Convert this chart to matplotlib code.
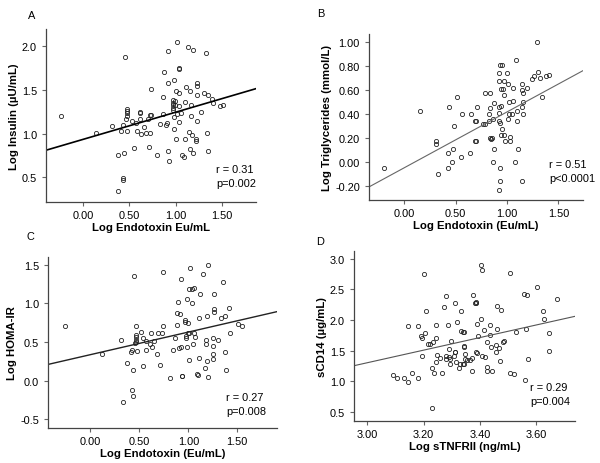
import numpy as np
import matplotlib
matplotlib.use("Agg")
import matplotlib.pyplot as plt

plt.rcParams['font.family'] = ['Liberation Sans', 'DejaVu Sans']

# ---- 面板 A: Log Endotoxin vs Log Insulin ----
a_x = [-0.24, 0.14, 0.31, 0.43, 0.41, 0.45, 0.38, 0.43, 0.43, 0.44, 0.38,
       0.48, 0.48, 0.48, 0.48, 0.47, 0.48, 0.53, 0.55, 0.57, 0.58, 0.62, 0.62,
       0.62, 0.63, 0.66, 0.68, 0.70, 0.72, 0.73, 0.72, 0.71, 0.74, 0.80, 0.83,
       0.86, 0.87, 0.88, 0.90, 0.91, 0.92, 0.92, 0.92, 0.93, 0.97, 0.97, 0.97,
       0.97, 0.97, 0.98, 0.98, 0.98, 0.99, 0.99, 1.01, 1.02, 1.00, 1.02, 1.04,
       1.04, 1.04, 1.04, 1.04, 1.06, 1.07, 1.09, 1.10, 1.10, 1.11, 1.13, 1.15,
       1.16, 1.16, 1.17, 1.17, 1.18, 1.19, 1.19, 1.23, 1.23, 1.23, 1.23, 1.22,
       1.22, 1.28, 1.31, 1.33, 1.34, 1.35, 1.35, 1.39, 1.41, 1.48, 1.51]
a_y = [1.205, 1.01, 1.08, 1.10, 1.03, 1.87, 0.35, 0.49, 0.47, 0.78, 0.75,
       1.28, 1.26, 1.23, 1.20, 1.16, 1.03, 1.14, 0.84, 1.12, 1.03, 1.24, 1.23,
       1.16, 0.99, 1.07, 1.01, 1.16, 1.21, 1.21, 1.01, 0.85, 1.51, 0.75, 1.11,
       1.22, 1.41, 1.70, 1.10, 1.12, 1.94, 1.57, 0.80, 0.69, 1.38, 1.35, 1.32,
       1.29, 1.27, 1.61, 1.19, 1.05, 1.37, 1.32, 0.94, 2.04, 1.48, 1.22, 1.75,
       1.73, 1.46, 1.31, 1.13, 1.23, 0.75, 0.73, 1.36, 0.94, 1.53, 1.98, 1.02,
       0.82, 1.48, 1.20, 1.32, 0.98, 1.95, 0.78, 1.57, 1.54, 1.14, 1.44, 0.94,
       0.91, 1.24, 1.46, 1.92, 1.01, 0.80, 1.44, 1.39, 1.35, 1.31, 1.32]
a_fit = (0.309, 0.933)   # 斜率, 截距
a_stats = ["r = 0.31", "p=0.002"]

# ---- 面板 B: Log Endotoxin vs Log Triglycerides ----
b_x = [-0.20, 0.15, 0.31, 0.31, 0.33, 0.43, 0.42, 0.42, 0.46, 0.47, 0.48,
       0.51, 0.55, 0.56, 0.64, 0.65, 0.69, 0.70, 0.71, 0.69, 0.70, 0.77, 0.79,
       0.79, 0.82, 0.83, 0.83, 0.82, 0.83, 0.85, 0.84, 0.86, 0.87, 0.86, 0.87,
       0.92, 0.92, 0.92, 0.92, 0.92, 0.93, 0.93, 0.95, 0.93, 0.93, 0.92, 0.94,
       0.94, 0.95, 0.94, 0.96, 0.97, 0.97, 0.97, 0.98, 1.00, 1.01, 1.01, 1.02,
       1.03, 1.03, 1.02, 1.05, 1.06, 1.06, 1.08, 1.09, 1.10, 1.10, 1.11, 1.15,
       1.15, 1.16, 1.16, 1.15, 1.16, 1.15, 1.19, 1.24, 1.26, 1.29, 1.30, 1.32,
       1.38, 1.41, 1.34]
b_y = [-0.047, 0.43, 0.175, 0.147, -0.097, 0.46, 0.078, -0.047, 0.0, 0.11,
       0.30, 0.54, 0.04, 0.40, 0.078, 0.40, 0.34, 0.34, 0.46, 0.175, 0.175,
       0.32, 0.32, 0.58, 0.40, 0.45, 0.58, 0.34, 0.20, 0.20, 0.19, 0.36, 0.49,
       0.0, 0.11, 0.74, 0.68, 0.46, 0.41, 0.34, 0.33, 0.81, 0.81, -0.047, -0.16,
       -0.23, 0.61, 0.47, 0.28, 0.23, 0.61, 0.68, 0.56, 0.23, 0.175, 0.74, 0.65,
       0.36, 0.50, 0.21, 0.175, 0.40, 0.40, 0.51, 0.62, 0.0, 0.85, 0.425, 0.34,
       0.11, 0.60, 0.65, 0.58, 0.50, 0.46, 0.40, -0.16, 0.62, 0.69, 0.72, 1.00,
       0.75, 0.70, 0.72, 0.73, 0.54]
b_fit = (0.466, -0.047)
b_stats = ["r = 0.51", "p<0.0001"]

# ---- 面板 C: Log Endotoxin vs Log HOMA-IR ----
c_x = [-0.26, 0.12, 0.31, 0.37, 0.41, 0.42, 0.42, 0.43, 0.33, 0.44, 0.43,
       0.47, 0.47, 0.47, 0.47, 0.47, 0.46, 0.48, 0.52, 0.54, 0.54, 0.57, 0.57,
       0.62, 0.61, 0.63, 0.65, 0.68, 0.69, 0.71, 0.73, 0.74, 0.74, 0.81, 0.84,
       0.86, 0.88, 0.88, 0.89, 0.90, 0.91, 0.92, 0.92, 0.93, 0.93, 0.97, 0.97,
       0.98, 0.98, 0.99, 0.99, 1.00, 1.00, 1.01, 1.01, 1.01, 1.02, 1.04, 1.06,
       1.04, 1.05, 1.06, 1.07, 1.09, 1.10, 1.11, 1.11, 1.12, 1.15, 1.17, 1.18,
       1.18, 1.19, 1.19, 1.20, 1.20, 1.25, 1.25, 1.25, 1.25, 1.26, 1.26, 1.26,
       1.30, 1.33, 1.35, 1.37, 1.37, 1.38, 1.42, 1.43, 1.51, 1.55]
c_y = [0.71, 0.35, 0.52, 0.225, 0.37, 0.39, -0.12, -0.195, -0.28, 1.35, 0.13,
       0.70, 0.59, 0.56, 0.53, 0.50, 0.48, 0.38, 0.63, 0.55, 0.19, 0.51, 0.39,
       0.61, 0.47, 0.43, 0.51, 0.34, 0.615, 0.195, 0.615, 0.70, 1.40, 0.035,
       0.40, 0.55, 0.72, 0.87, 1.02, 0.415, 0.86, 1.32, 0.44, 0.06, 0.06, 0.78,
       0.76, 0.575, 0.545, 0.43, 1.06, 0.745, 0.62, 1.18, 0.62, 0.26, 1.455,
       1.18, 1.195, 1.00, 0.47, 0.62, 0.56, 0.087, 0.07, 0.29, 0.805, 1.125,
       1.385, 0.165, 0.47, 0.52, 0.84, 0.25, 1.50, 0.05, 0.55, 0.45, 0.35, 0.28,
       1.125, 0.93, 0.89, 0.52, 0.81, 1.28, 0.835, 0.37, 0.13, 0.935, 0.61,
       0.73, 0.70]
c_fit = (0.2925, 0.335)
c_stats = ["r = 0.27", "p=0.008"]

# ---- 面板 D: Log sTNFRII vs sCD14 ----
d_x = [3.093, 3.105, 3.131, 3.145, 3.146, 3.157, 3.180, 3.180, 3.190, 3.195,
       3.194, 3.202, 3.204, 3.209, 3.214, 3.222, 3.228, 3.234, 3.231, 3.236,
       3.243, 3.243, 3.246, 3.243, 3.257, 3.266, 3.273, 3.278, 3.278, 3.281,
       3.285, 3.289, 3.290, 3.293, 3.296, 3.294, 3.307, 3.311, 3.311, 3.313,
       3.314, 3.319, 3.324, 3.328, 3.331, 3.334, 3.340, 3.342, 3.340, 3.344,
       3.344, 3.344, 3.346, 3.346, 3.354, 3.376, 3.381, 3.385, 3.387, 3.386,
       3.388, 3.393, 3.391, 3.371, 3.373, 3.364, 3.405, 3.406, 3.404, 3.406,
       3.418, 3.415, 3.425, 3.425, 3.425, 3.437, 3.436, 3.438, 3.444, 3.457,
       3.458, 3.459, 3.462, 3.466, 3.474, 3.472, 3.482, 3.484, 3.505, 3.508,
       3.520, 3.526, 3.557, 3.561, 3.562, 3.567, 3.570, 3.602, 3.624, 3.626,
       3.644, 3.646, 3.674]
d_y = [1.10, 1.06, 1.06, 1.91, 0.99, 1.14, 1.06, 1.90, 1.745, 1.70, 1.42,
       2.745, 1.79, 2.15, 1.61, 1.61, 0.56, 1.64, 1.21, 1.13, 1.92, 1.71, 1.43,
       1.32, 1.38, 1.13, 2.22, 1.36, 1.42, 2.385, 1.92, 1.40, 1.53, 1.36, 1.65,
       1.28, 1.41, 1.48, 1.47, 2.27, 1.32, 1.97, 1.22, 1.28, 2.15, 1.82, 1.29,
       1.29, 1.80, 1.80, 1.58, 1.56, 1.45, 1.36, 1.34, 2.40, 2.27, 2.27, 2.30,
       1.47, 1.46, 1.745, 1.93, 1.17, 1.375, 1.34, 2.90, 2.82, 2.02, 1.41, 1.39,
       1.84, 1.64, 1.23, 1.17, 1.92, 1.76, 1.56, 1.17, 1.60, 1.48, 1.85, 2.23,
       1.55, 2.17, 1.33, 1.64, 1.66, 2.76, 1.13, 1.12, 1.80, 2.43, 1.02, 1.86,
       2.41, 1.37, 2.53, 2.15, 2.02, 1.79, 1.50, 2.35]
d_fit = (1.027, -1.778)
d_stats = ["r = 0.29", "p=0.004"]

W, H = 600, 464
TICK_FS = 7.9
LABEL_FS = 8.2


def px_rect(l, t, r, b):
    # 像素坐标 -> figure 坐标
    return [l / W, 1 - b / H, (r - l) / W, (b - t) / H]


def draw_panel(fig, rect, xs, ys, fit, xlim, ylim, xticks, yticks, xfmt, yfmt,
               xlabel, ylabel, line_color, line_width):
    ax = fig.add_axes(rect)
    ax.plot(xs, ys, linestyle="none", marker="o", markersize=3.0,
            markerfacecolor="none", markeredgecolor="#222222",
            markeredgewidth=0.6)
    lx = np.array(xlim)
    ax.plot(lx, fit[0] * lx + fit[1], color=line_color, linewidth=line_width)
    ax.set_xlim(xlim)
    ax.set_ylim(ylim)
    ax.set_xticks(xticks)
    ax.set_yticks(yticks)
    ax.set_xticklabels([xfmt % v for v in xticks])
    ax.set_yticklabels([yfmt % v for v in yticks])
    for s in ["top", "right"]:
        ax.spines[s].set_visible(False)
    for s in ["left", "bottom"]:
        ax.spines[s].set_color("#444444")
        ax.spines[s].set_linewidth(0.9)
    ax.tick_params(direction="out", length=3, width=0.8, color="#666666",
                   labelsize=TICK_FS)
    ax.tick_params(axis="y", pad=3.5)
    ax.tick_params(axis="x", pad=2.5)
    ax.set_xlabel(xlabel, fontsize=LABEL_FS, fontweight="bold", labelpad=1.5)
    ax.set_ylabel(ylabel, fontsize=LABEL_FS, fontweight="bold", labelpad=2)
    return ax


def main():
    fig = plt.figure(figsize=(6.0, 4.64), dpi=100)

    draw_panel(fig, px_rect(46, 30, 256, 203), a_x, a_y, a_fit,
               (-0.40, 1.87), (0.22, 2.19),
               [0.0, 0.5, 1.0, 1.5], [0.5, 1.0, 1.5, 2.0], "%.2f", "%.1f",
               "Log Endotoxin Eu/mL", "Log Insulin (µU/mL)", "black", 1.2)
    draw_panel(fig, px_rect(369, 35, 583, 201), b_x, b_y, b_fit,
               (-0.345, 1.74), (-0.317, 1.07),
               [0.0, 0.5, 1.0, 1.5], [-0.2, 0.0, 0.2, 0.4, 0.6, 0.8, 1.0],
               "%.2f", "%.2f",
               "Log Endotoxin (Eu/mL)", "Log Triglycerides (mmol/L)",
               "#666666", 0.8)
    draw_panel(fig, px_rect(48, 258, 277, 429), c_x, c_y, c_fit,
               (-0.433, 1.905), (-0.615, 1.60),
               [0.0, 0.5, 1.0, 1.5], [-0.5, 0.0, 0.5, 1.0, 1.5], "%.2f", "%.1f",
               "Log Endotoxin (Eu/mL)", "Log HOMA-IR", "#222222", 1.0)
    draw_panel(fig, px_rect(354, 252, 575, 422), d_x, d_y, d_fit,
               (2.953, 3.737), (0.353, 3.125),
               [3.0, 3.2, 3.4, 3.6], [0.5, 1.0, 1.5, 2.0, 2.5, 3.0],
               "%.2f", "%.1f",
               "Log sTNFRII (ng/mL)", "sCD14 (µg/mL)", "#555555", 0.8)

    # 面板字母
    for lab, x, y in [("A", 32, 16), ("B", 321, 14), ("C", 30, 237), ("D", 320, 242)]:
        fig.text(x / W, 1 - y / H, lab, fontsize=TICK_FS, ha="center", va="center")

    # r / p 标注
    for stats, x, y in [(a_stats, 216, 170), (b_stats, 549, 165),
                        (c_stats, 226, 398), (d_stats, 530, 388)]:
        fig.text(x / W, 1 - y / H, stats[0], fontsize=TICK_FS, ha="left", va="center")
        fig.text(x / W, 1 - (y + 14) / H, stats[1], fontsize=TICK_FS, ha="left", va="center")

    fig.savefig("out.png", dpi=100)


if __name__ == "__main__":
    main()
